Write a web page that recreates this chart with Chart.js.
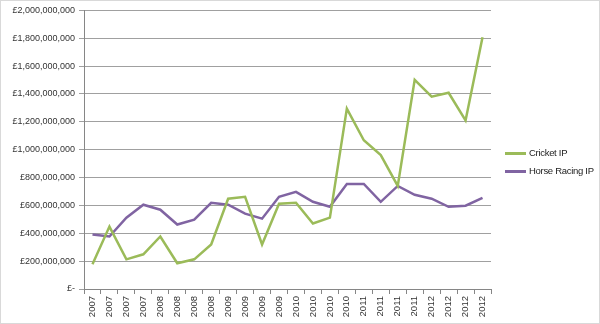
<!DOCTYPE html>
<html>
<head>
<meta charset="utf-8">
<script src="https://cdn.jsdelivr.net/npm/chart.js@4/dist/chart.umd.min.js"></script>
<style>
  body { margin: 0; background: #fff; }
  #wrap { position: relative; width: 598px; height: 322px; border: 1px solid #d9d9d9; }
  #legend { position: absolute; left: 504px; top: 145px; font: 9.5px "Liberation Sans", Arial, sans-serif; letter-spacing: -0.3px; color: #222; }
  #legend div { height: 18px; line-height: 14px; white-space: nowrap; }
  #legend span.key { display: inline-block; width: 21px; height: 3px; vertical-align: middle; margin-right: 3px; }
</style>
</head>
<body>
<div id="wrap">
  <canvas id="myChart" width="598" height="322"></canvas>
  <div id="legend"></div>
</div>
<script>
var years = ['2007','2007','2007','2007','2008','2008','2008','2008','2009','2009','2009','2009',
             '2010','2010','2010','2010','2011','2011','2011','2011','2012','2012','2012','2012'];

// quarterly in-play turnover, £
var cricket = [178e6, 448e6, 213e6, 249e6, 377e6, 185e6, 213e6, 320e6, 648e6, 662e6, 320e6, 612e6,
               619e6, 470e6, 512e6, 1295e6, 1068e6, 961e6, 740e6, 1502e6, 1381e6, 1409e6, 1210e6, 1808e6];
var horseRacing = [391e6, 377e6, 512e6, 605e6, 569e6, 463e6, 498e6, 619e6, 605e6, 541e6, 505e6, 662e6,
                   697e6, 626e6, 590e6, 754e6, 754e6, 626e6, 740e6, 676e6, 648e6, 590e6, 598e6, 655e6];

var seriesNames = ['Cricket IP', 'Horse Racing IP'];
var seriesColors = ['rgb(155,187,89)', 'rgb(128,100,162)'];

const ctx = document.getElementById('myChart');
const myChart = new Chart(ctx, {
    type: 'line',
    data: {
        labels: years,
        datasets: [{
            label: seriesNames[0],
            data: cricket,
            borderColor: seriesColors[0],
            borderWidth: 2.5,
            pointRadius: 0,
            tension: 0
        }, {
            label: seriesNames[1],
            data: horseRacing,
            borderColor: seriesColors[1],
            borderWidth: 2.5,
            pointRadius: 0,
            tension: 0
        }]
    },
    options: {
        responsive: false,
        animation: false,
        layout: { padding: { top: 8, right: 108, left: 0, bottom: 2 } },
        plugins: {
            legend: { display: false },
            tooltip: { enabled: false }
        },
        scales: {
            x: {
                offset: true,
                grid: { offset: true, drawOnChartArea: false, drawTicks: true, tickLength: 5, color: '#868686' },
                border: { color: '#868686' },
                ticks: {
                    minRotation: 90, maxRotation: 90, autoSkip: false, padding: 2,
                    color: '#333', font: { family: 'Liberation Sans', size: 9.5 }
                },
                afterFit: function (axis) { axis.height = 32; }
            },
            y: {
                min: 0,
                max: 2000000000,
                ticks: {
                    stepSize: 200000000,
                    padding: 4,
                    color: '#333',
                    font: { family: 'Liberation Sans', size: 9 },
                    callback: function (v) {
                        return v === 0 ? '£-' : '£' + v.toLocaleString('en-GB');
                    }
                },
                grid: { color: '#a0a0a0', tickLength: 5, lineWidth: 1 },
                border: { color: '#868686' },
                afterFit: function (axis) { axis.width = 83; }
            }
        }
    }
});

// legend on the right
var legend = document.getElementById('legend');
for (var i = 0; i < seriesNames.length; i++) {
    legend.innerHTML += '<div><span class="key" style="background:' + seriesColors[i] + '"></span>' + seriesNames[i] + '</div>';
}
</script>
</body>
</html>
